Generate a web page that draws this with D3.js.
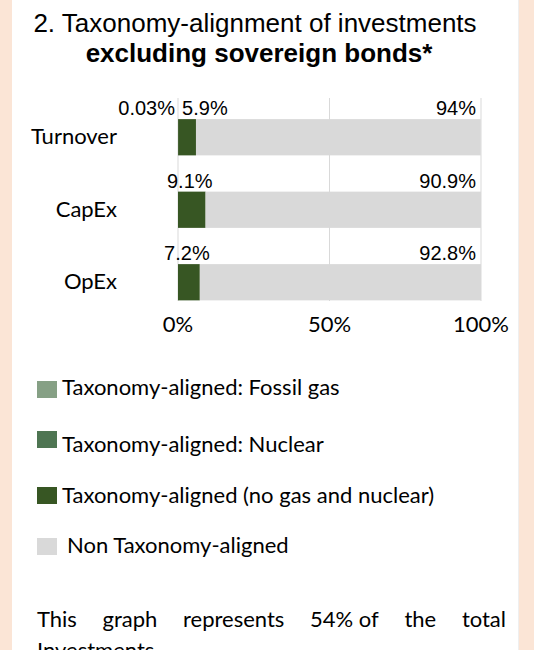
<!DOCTYPE html>
<html>
<head>
<meta charset="utf-8">
<script src="https://cdn.jsdelivr.net/npm/d3@7"></script>
<style>
  html, body { margin: 0; padding: 0; background: #FBE5D6; }
  svg { display: block; }
</style>
</head>
<body>
<script>
// chart values
const categories = ["Turnover", "CapEx", "OpEx"];
const fossilGas = [0.03, 0, 0];
const nuclear = [0, 0, 0];
const alignedOther = [5.9, 9.1, 7.2];
const nonAligned = [94, 90.9, 92.8];
const seriesNames = [
  "Taxonomy-aligned: Fossil gas",
  "Taxonomy-aligned: Nuclear",
  "Taxonomy-aligned (no gas and nuclear)",
  "Non Taxonomy-aligned"
];
const xTicks = [0, 50, 100];
const titleLines = ["2. Taxonomy-alignment of investments", "excluding sovereign bonds*"];
const noteLines = ["This graph represents 54%\u00A0of the total", "Investments."];

const keys = ["gas", "nuclear", "aligned", "non"];
const colors = ["#86A085", "#4E7552", "#375623", "#D9D9D9"];
const arial = "'Liberation Sans', Arial, sans-serif";
const calibri = "Lato, 'Open Sans', sans-serif";

const w = 534, h = 650;

const rows = categories.map((c, i) => ({
  cat: c, gas: fossilGas[i], nuclear: nuclear[i], aligned: alignedOther[i], non: nonAligned[i]
}));

const svg = d3.select("body").append("svg")
  .attr("width", w)
  .attr("height", h);

// white panel
svg.append("rect").attr("x", 12).attr("y", 0).attr("width", 506).attr("height", h).attr("fill", "#fff");
svg.append("line").attr("x1", 518.5).attr("x2", 518.5).attr("y1", 0).attr("y2", h)
  .attr("stroke", "#EFEFEF");

// title
svg.selectAll("text.title").data(titleLines).enter().append("text")
  .attr("class", "title")
  .attr("x", (d, i) => i ? 259 : 255)
  .attr("y", (d, i) => i ? 62 : 32)
  .attr("text-anchor", "middle")
  .attr("font-family", arial)
  .attr("font-size", 26)
  .attr("font-weight", (d, i) => i ? "bold" : "normal")
  .attr("fill", "#000")
  .text(d => d);

const x = d3.scaleLinear().domain([0, 100]).range([178, 481]);
const y = d3.scaleBand().domain(categories).range([101, 318.5]).paddingInner(0.5).paddingOuter(0.25);

// gridlines
svg.selectAll("line.grid").data(xTicks).enter().append("line")
  .attr("class", "grid")
  .attr("x1", d => x(d)).attr("x2", d => x(d))
  .attr("y1", 98).attr("y2", 301)
  .attr("stroke", "#D9D9D9").attr("stroke-width", 1);

// stacked bars
const stacked = d3.stack().keys(keys)(rows);
svg.selectAll("g.series").data(stacked).enter().append("g")
  .attr("class", "series")
  .attr("fill", (d, i) => colors[i])
  .selectAll("rect").data(d => d).enter().append("rect")
  .attr("x", d => x(d[0]))
  .attr("y", d => y(d.data.cat))
  .attr("width", d => x(d[1]) - x(d[0]))
  .attr("height", y.bandwidth());

// data labels
const fmt = v => v + "%";
const labels = [];
rows.forEach(r => {
  const small = r.gas + r.nuclear;
  const ly = y(r.cat) - 4;
  if (r.gas > 0) labels.push({x: x(0) - 3, y: ly, anchor: "end", t: fmt(r.gas)});
  if (r.nuclear > 0) labels.push({x: x(0) - 3, y: ly, anchor: "end", t: fmt(r.nuclear)});
  if (small > 0) {
    labels.push({x: x(small) + 4, y: ly, anchor: "start", t: fmt(r.aligned)});
  } else {
    labels.push({x: (x(0) + x(r.aligned)) / 2 - 2, y: ly, anchor: "middle", t: fmt(r.aligned)});
  }
  labels.push({x: x(100) - 5, y: ly, anchor: "end", t: fmt(r.non)});
});
svg.selectAll("text.lbl").data(labels).enter().append("text")
  .attr("class", "lbl")
  .attr("x", d => d.x).attr("y", d => d.y)
  .attr("text-anchor", d => d.anchor)
  .attr("font-family", arial).attr("font-size", 20)
  .attr("fill", "#000")
  .text(d => d.t);

// category labels
svg.selectAll("text.cat").data(categories).enter().append("text")
  .attr("class", "cat")
  .attr("x", 117)
  .attr("y", d => y(d) + y.bandwidth() / 2 + 7)
  .attr("text-anchor", "end")
  .attr("font-family", calibri).attr("font-size", 22)
  .attr("fill", "#000")
  .text(d => d);

// x tick labels
svg.selectAll("text.tick").data(xTicks).enter().append("text")
  .attr("class", "tick")
  .attr("x", d => x(d))
  .attr("y", 332)
  .attr("text-anchor", "middle")
  .attr("font-family", calibri).attr("font-size", 22)
  .attr("fill", "#000")
  .text(d => d + "%");

// legend
const legSquareY = [381, 431, 487, 538];
const legTextY = [395, 452, 503, 553];
const legTextX = [62, 62, 62, 67];
const leg = svg.selectAll("g.leg").data(seriesNames).enter().append("g").attr("class", "leg");
leg.append("rect")
  .attr("x", 37).attr("y", (d, i) => legSquareY[i])
  .attr("width", 20).attr("height", 17)
  .attr("fill", (d, i) => colors[i]);
leg.append("text")
  .attr("x", (d, i) => legTextX[i]).attr("y", (d, i) => legTextY[i])
  .attr("font-family", calibri).attr("font-size", 22)
  .attr("fill", "#000")
  .text(d => d);

// justified note
const noteLeft = 37, noteRight = 506;
noteLines.forEach((line, li) => {
  const words = line.split(" ");
  const g = svg.append("g");
  const ts = g.selectAll("text").data(words).enter().append("text")
    .attr("y", 627 + li * 31)
    .attr("font-family", calibri).attr("font-size", 22)
    .attr("fill", "#000")
    .text(d => d);
  const widths = ts.nodes().map(n => n.getComputedTextLength());
  const total = d3.sum(widths);
  const last = li === noteLines.length - 1;
  const gap = (!last && words.length > 1) ? (noteRight - noteLeft - total) / (words.length - 1) : 6;
  let cx = noteLeft;
  ts.attr("x", (d, i) => { const v = cx; cx += widths[i] + gap; return v; });
});
</script>
</body>
</html>
